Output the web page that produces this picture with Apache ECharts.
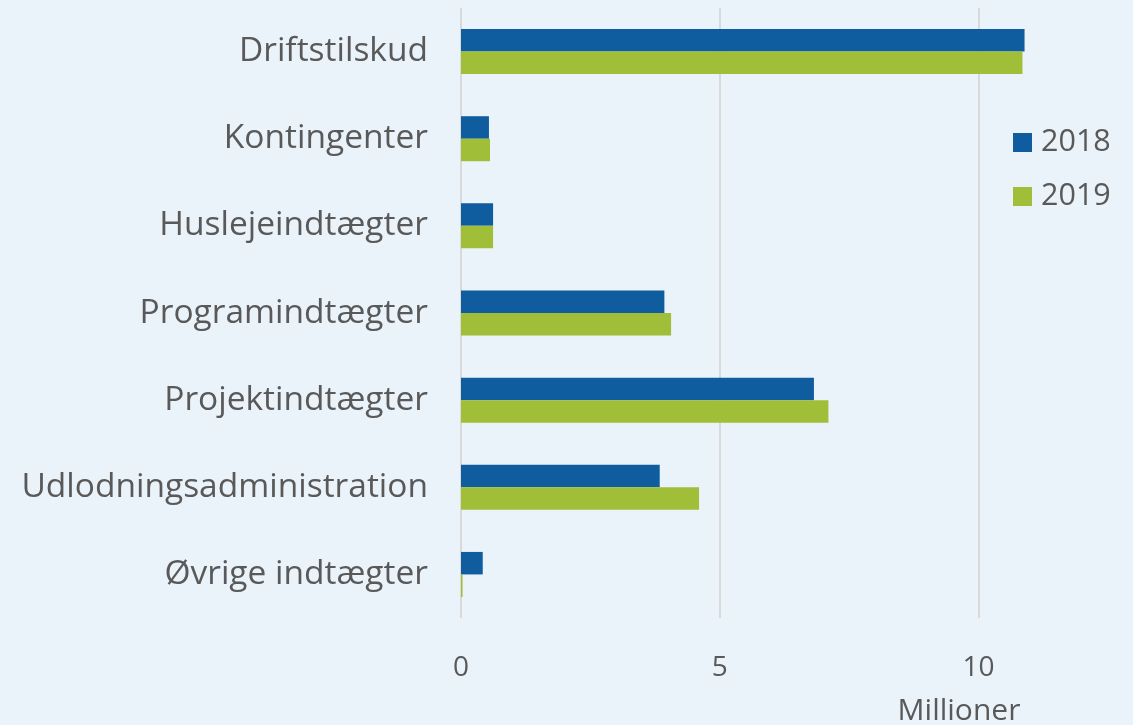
<!DOCTYPE html>
<html>
<head>
<meta charset="utf-8">
<script src="https://cdn.jsdelivr.net/npm/echarts@6/dist/echarts.min.js"></script>
<style>
html,body{margin:0;padding:0;background:#ebf3fa;}
#chart{width:1133px;height:725px;}
</style>
</head>
<body>
<div id="chart"></div>
<script>
const categories = ['Driftstilskud','Kontingenter','Huslejeindtægter','Programindtægter','Projektindtægter','Udlodningsadministration','Øvrige indtægter'];
const values2018 = [10.89, 0.54, 0.62, 3.93, 6.82, 3.84, 0.42];
const values2019 = [10.85, 0.56, 0.62, 4.06, 7.10, 4.60, 0.03];
const seriesNames = ['2018', '2019'];
const axisTitle = 'Millioner';

const chart = echarts.init(document.getElementById('chart'), null, {renderer:'canvas'});
const font = 'Open Sans';
chart.setOption({
  backgroundColor: '#ebf3fa',
  animation: false,
  textStyle: {fontFamily: font},
  legend: {
    orient: 'vertical',
    left: 1013,
    top: 127,
    padding: 0,
    itemWidth: 19,
    itemHeight: 19,
    itemGap: 23,
    icon: 'rect',
    textStyle: {fontSize: 30.5, color: '#595959', fontFamily: font, padding: [0, 0, 0, 4]},
    data: seriesNames
  },
  grid: {left: 461, right: 1133 - 461 - 12*51.75, top: 8, bottom: 107, containLabel: false},
  xAxis: {
    type: 'value', min: 0, max: 12, interval: 5,
    axisLine: {show: false}, axisTick: {show: false},
    splitLine: {show: true, showMaxLine: false, lineStyle: {color: '#d9d9d9', width: 2}},
    axisLabel: {fontSize: 28, color: '#595959', margin: 36, showMaxLabel: false, fontFamily: font}
  },
  yAxis: {
    type: 'category', data: categories, inverse: true,
    axisLine: {show: false}, axisTick: {show: false},
    axisLabel: {fontSize: 33.5, color: '#595959', margin: 33, fontFamily: font}
  },
  graphic: [{
    type: 'text', x: 959, y: 711,
    style: {text: axisTitle, fontSize: 30, fontFamily: font, fill: '#595959', align: 'center', verticalAlign: 'middle'}
  }],
  series: [
    {name: seriesNames[0], type: 'bar', data: values2018, barWidth: 22.5, barGap: '0%', itemStyle: {color: '#0f5c9f'}},
    {name: seriesNames[1], type: 'bar', data: values2019, barWidth: 22.5, barGap: '0%', itemStyle: {color: '#a1be39'}}
  ]
});
</script>
</body>
</html>
